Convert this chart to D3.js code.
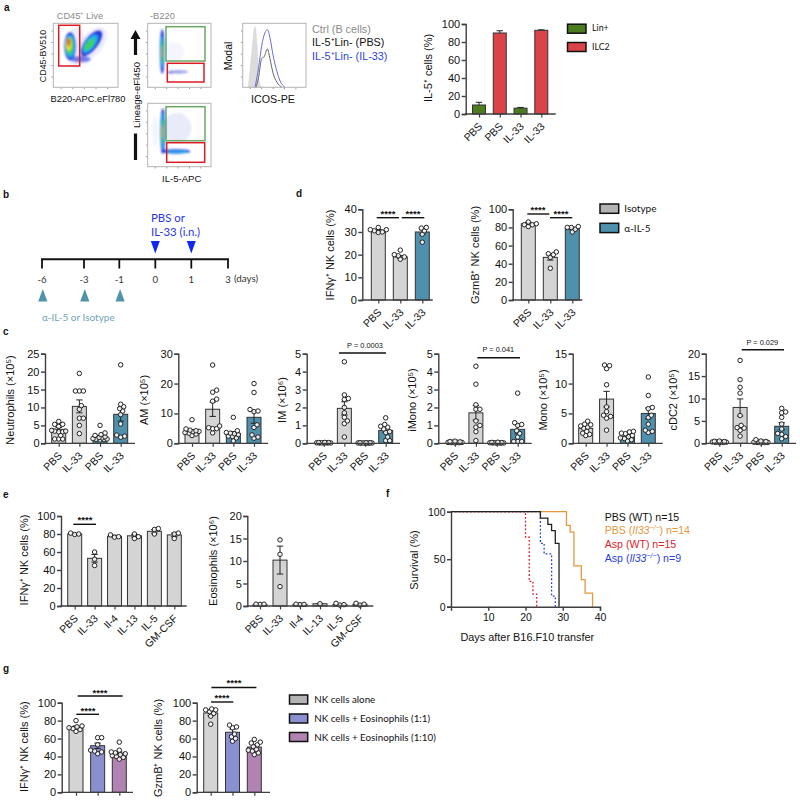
<!DOCTYPE html>
<html><head><meta charset="utf-8">
<style>html,body{margin:0;padding:0;background:#fff}svg{display:block}</style>
<script src="https://cdn.jsdelivr.net/npm/d3@7"></script></head>
<body><svg id="c" width="800" height="800"></svg>
<script>
// ---------- data ----------
const catsPP=['PBS','IL-33','PBS','IL-33'];
const catsD=['PBS','IL-33','IL-33'];
const catsE=['PBS','IL-33','Il-4','IL-13','IL-5','GM-CSF'];
const catsA=['PBS','PBS','IL-33','IL-33'];
const catsG=['','',''];
const aMeans=[10,90,6.5,93], aErrs=[3,2.5,0.8,0.5];
const neutMeans=[3.9,10.3,1.9,8.1], neutErrs=[0.5,1.8,0.3,1.9];
const neutPts=[[6.1,5.3,5.3,4.7,3.6,3.4,3.4,3.2,3.2,2.2,1.2,1.2,1.2],[19.5,14.6,14.6,14.6,10.5,9.5,7,7,5,2.7],[5,2.9,2.4,2.2,1.8,1.6,1.5,1.3,1.2,1.1,1,0.9],[21.9,10.9,10.2,9.7,9,8,5.4,2.3,2,1.7]];
const amMeans=[4.1,11.4,3.3,8.7], amErrs=[0.4,2.4,0.6,2];
const amPts=[[7.9,4.8,4.4,4.2,4,3.9,3.6,3.4,3.1,2.6],[26.2,17.8,17.1,14.8,14.1,5.8,5.2,4.9,4.9,3.5],[8.7,4.2,3.6,3.4,3.2,2.9,2.4,2.3,1.8,0.8],[20,17,11.3,10.8,10.6,6.2,5.3,2.8,2.1,1.7]];
const imMeans=[0.03,1.95,0.02,0.72], imErrs=[0.01,0.37,0.01,0.12];
const imPts=[[.05,.04,.04,.03,.03,.03,.02,.02,.02,.02],[4.55,2.7,2.5,2.45,2,1.7,1.45,1.25,1.1,.35],[.03,.03,.03,.02,.02,.02,.02,.01,.01,.01],[1.42,1.05,.95,.9,.8,.65,.6,.35,.15,.15]];
const imonoMeans=[0.06,1.7,0.03,0.78], imonoErrs=[0.02,0.4,0.01,0.25];
const imonoPts=[[.12,.1,.08,.07,.06,.05,.05,.04,.03,.02],[4.3,3.3,2.15,1.9,1.9,1.25,1,.9,.65,.15],[.06,.05,.04,.03,.03,.03,.02,.02,.01,.01],[2.8,1.15,1.05,1,.7,.55,.35,.1,.1,.1]];
const monoMeans=[2.5,7.4,1.2,5], monoErrs=[0.25,1.3,0.2,0.9];
const monoPts=[[3.7,3.2,3.1,2.9,2.7,2.5,2,1.7,1.5,1.3],[13.1,13,12.5,9.8,6.1,5.3,4.7,4.5,4.2,2.2],[2,1.9,1.7,1.6,1.3,1.1,.9,.8,.6,.4],[11.1,8,6,5.8,4.7,4.3,3.2,2.2,2,1.8]];
const cdcMeans=[0.3,8,0.3,3.8], cdcErrs=[0.05,1.9,0.05,0.8];
const cdcPts=[[.5,.45,.4,.35,.3,.3,.25,.2,.2,.15],[18.5,14.2,12.5,11.2,6.2,4,3.5,3.4,2.9,1.6],[.8,.5,.4,.3,.3,.25,.2,.2,.15,.1],[7.8,7,6.8,5.8,4.3,3.2,2.2,2,1.5,1]];
const dIfnMeans=[30.5,19,30], dIfnErrs=[0.6,0.6,1];
const dIfnPts=[[32,31,31,30.5,30,29.8],[22,20,19.5,19,18],[32,31.7,30.5,29,25.5]];
const dGzmMeans=[84,47,79], dGzmErrs=[1.5,3,1.2];
const dGzmPts=[[86,84,83,83,81],[53,51,50,47,35],[81,80,80,78,75]];
const eIfnMeans=[80,53,77.5,78,83,79], eIfnErrs=[0.5,4.3,1,1.5,2,2];
const eIfnPts=[[81,80,79.5],[60,52,45],[79,77,76.5],[80,77,75],[86,85,80],[81,80,75]];
const eEosMeans=[0.3,10.2,0.35,0.5,0.3,0.4], eEosErrs=[0.05,3.1,0.05,0.02,0.1,0.1];
const eEosPts=[[.4,.4,.35],[14.7,11.5,4.3],[.4,.35,.3],[.5],[.6,.3,.2],[.6,.4,.2]];
const gIfnMeans=[72,52,43.5], gIfnErrs=[2,3,1.5];
const gIfnPts=[[80,74,73,72,71,70,68],[61,61,53,47,46,45,43],[56,47,45,44,43,42,41,40,39,37]];
const gGzmMeans=[88.5,67,50.5], gGzmErrs=[3,3.5,2];
const gGzmPts=[[93,92,92,90,88,85,76],[75,73,72,65,62,60,57],[59,56,55,53,51,48,47,46,44,42]];
const survPbsWt=[[0,100],[24,93.3],[26,86.7],[27,80],[28,66.7],[29,0]];
const survPbsKo=[[0,100],[31,85.7],[32,78.6],[33,42.9],[35,28.6],[36,14.3],[38,0]];
const survAspWt=[[0,100],[20,73.3],[21,26.7],[22,13.3],[23,0]];
const survAspKo=[[0,100],[24,66.7],[25,55.6],[27,11.1],[28,0]];
const histCtrl=[[9,0],[14,50],[19.5,95],[23,60],[26,10],[30,0]];
const histPbs=[[21,0],[25,15],[30,45],[34,48],[39,60],[43,45],[48,22],[54,8],[62,0]];
const histIl33=[[19.5,0],[25,30],[30,65],[35,85],[39,90],[43,78],[48,50],[54,25],[59,10],[67,0]];
const timeDays=['-6','-3','-1','0','1','3'];
const timeDrug=['-6','-3','-1'], timeIn=['0','1'];

// flow plots: density blobs as [cx, cy, rx, ry, angle, colour, opacity] in % of the plot frame
const flowA=[[35,38,16,32,0,'#c9cbf3',.3],[60,32,30,17,-52,'#c9cbf3',.35],
 [26,36,9,22,0,'#2a3be0',1],[59,31,24,10.5,-52,'#2a3be0',1],[42,56,16,5,0,'#3b4be6',.7],
 [26,36,7.5,18,0,'#1fb4e8',1],[57,32,17,7.5,-52,'#1fb4e8',1],
 [25,35,6,14,0,'#3fd25c',1],[56,33,11,5,-52,'#3fd25c',1],
 [24,33,4,10,0,'#e8e22c',1],[24,30,2.5,7,0,'#f08a1c',1],[23.5,29,1.5,4.5,0,'#d8201c',1]];
const flowB=[[42,45,16,16,0,'#dfe0f8',.3],[48,76,16,2.5,0,'#8a90e6',.9],[36,77,5,2,0,'#6a74e6',.7],
 [23,44,3.8,35,0,'#2a3be0',1],[23,45,2.6,25,0,'#1fb4e8',1],[23,45,1.7,18,0,'#3fd25c',1],[22.5,46,.9,10,0,'#d8a81c',1]];
const flowC=[[46,39,23,24,0,'#c3c6f2',.35],[12,45,5,24,0,'#dfe0f8',.35],
 [24,44,4.2,36,0,'#2a3be0',1],[44,76,23,3.6,0,'#2a3be0',1],[24,44,2.8,29,0,'#1fb4e8',1],[44,76.5,17,1.6,0,'#1fb4e8',1],[58,77,5,1.6,0,'#1fb4e8',1],
 [23.5,45,1.9,20,0,'#3fd25c',1],[23.5,45,1,12,0,'#d8a81c',1]];

// ---------- helpers ----------
const svg=d3.select('#c');
const defs=svg.append('defs');
defs.append('filter').attr('id','blur').attr('x','-30%').attr('y','-30%').attr('width','160%').attr('height','160%')
 .append('feGaussianBlur').attr('stdDeviation',0.9);
const SANS='"Liberation Sans",Arial,sans-serif', HUM='Lato,"Open Sans",sans-serif';
const AX='#3f3f3f', GREY='#d4d4d4', TEAL='#4f90ad', PERI='#8a90cf', MAUVE='#b083b2', GREEN='#4b7d1e', RED='#da4449';

function txt(x,y,s,o={}){
 return svg.append('text').attr('x',x).attr('y',y).attr('dominant-baseline','central').text(s)
  .attr('font-family',o.f||SANS).attr('font-size',o.s||10).attr('fill',o.c||'#111')
  .attr('text-anchor',o.a||'start').attr('font-weight',o.w||'normal');
}
function vtxt(x,y,s,o={}){return txt(0,0,s,{...o,a:'middle'}).attr('transform',`translate(${x},${y}) rotate(-90)`);}
function hline(x1,x2,y,w=1.4,c='#111'){svg.append('line').attr('x1',x1).attr('x2',x2).attr('y1',y).attr('y2',y).attr('stroke',c).attr('stroke-width',w);}

function dodge(vals,y,r,cap){
 const placed=[],sorted=[...vals].sort((a,b)=>a-b);
 sorted.forEach(v=>{
  const py=y(v);let best=0,bestD=-1;
  for(let k=0;k<=2*cap;k++){
   const off=(k%2?1:-1)*Math.ceil(k/2)*1;
   let d=Infinity;placed.forEach(p=>{d=Math.min(d,Math.hypot(p.x-off,p.y-py));});
   if(d>=2*r*0.85){best=off;bestD=d;break;}
   if(d>bestD){bestD=d;best=off;}
  }
  placed.push({x:best,y:py});
 });
 return placed;
}

function barPanel(p){
 const y=d3.scaleLinear().domain([0,p.max]).range([p.y0,p.yT]);
 const x=d3.scalePoint().domain(d3.range(p.means.length)).range([p.c0,p.c1]);
 const bw=p.bw||14, g=svg.append('g');
 // bars
 g.selectAll('rect').data(p.means).join('rect')
  .attr('x',(d,i)=>x(i)-bw/2).attr('width',bw).attr('y',d=>y(d)).attr('height',d=>p.y0-y(d))
  .attr('fill',(d,i)=>p.colors[i]).attr('stroke','#333').attr('stroke-width',1);
 // error bars
 p.means.forEach((m,i)=>{
  const e=p.errs[i],cx=x(i),ce=svg.append('g').attr('stroke','#222').attr('stroke-width',1);
  const lo=p.points?m-e:m;
  ce.append('line').attr('x1',cx).attr('x2',cx).attr('y1',y(lo)).attr('y2',y(m+e));
  ce.append('line').attr('x1',cx-3.2).attr('x2',cx+3.2).attr('y1',y(m+e)).attr('y2',y(m+e));
  if(p.points)ce.append('line').attr('x1',cx-3.2).attr('x2',cx+3.2).attr('y1',y(m-e)).attr('y2',y(m-e));
 });
 // points
 if(p.points)p.points.forEach((vals,i)=>{
  const r=2.25;
  svg.append('g').selectAll('circle').data(dodge(vals,y,r,p.cap||8)).join('circle')
   .attr('cx',d=>x(i)+d.x).attr('cy',d=>d.y).attr('r',r)
   .attr('fill','#fff').attr('fill-opacity',.85).attr('stroke','#222').attr('stroke-width',1);
 });
 // y axis
 const ya=svg.append('g').attr('transform',`translate(${p.x0},0)`).call(d3.axisLeft(y).tickValues(p.ticks).tickSize(4).tickFormat(d3.format('d')));
 ya.selectAll('path,line').attr('stroke',AX).attr('stroke-width',1.4);
 ya.selectAll('text').attr('font-family',SANS).attr('font-size',p.tf||11).attr('fill','#111').attr('x',-5.5);
 // x axis
 const xa=svg.append('g').attr('transform',`translate(0,${p.y0})`).call(d3.axisBottom(x).tickSize(3.5).tickFormat(i=>p.cats[i]));
 xa.select('.domain').remove();
 xa.selectAll('line').attr('stroke',AX).attr('stroke-width',1.2);
 xa.selectAll('text').attr('font-family',SANS).attr('font-size',10.5).attr('fill','#111')
  .attr('text-anchor','end').attr('y',0).attr('dy',0).attr('x',0)
  .attr('transform','translate(3.5,13) rotate(-45)');
 hline(p.x0-.7,p.x1,p.y0,1.3,AX);
 vtxt(p.lx,p.ly,p.label,{s:p.ls||11});
}

function frame(x0,x1,yT,yB){
 return {x:d3.scaleLinear().domain([0,100]).range([x0,x1]),y:d3.scaleLinear().domain([0,100]).range([yT,yB]),x0,x1,yT,yB};
}
function frameBox(fr){
 const tick=[12,30,48,66,84];
 const ax=svg.append('g').attr('stroke','#777').attr('stroke-width',.7);
 tick.forEach(t=>{
  ax.append('line').attr('x1',fr.x(t)).attr('x2',fr.x(t)).attr('y1',fr.yB).attr('y2',fr.yB+1.8);
  ax.append('line').attr('y1',fr.y(t)).attr('y2',fr.y(t)).attr('x1',fr.x0-1.8).attr('x2',fr.x0);
 });
 svg.append('rect').attr('x',fr.x0).attr('y',fr.yT).attr('width',fr.x1-fr.x0).attr('height',fr.yB-fr.yT)
  .attr('fill','none').attr('stroke','#b3b3b3').attr('stroke-width',1);
}
function flow(fr,blobs,gates){
 const sx=(fr.x1-fr.x0)/100, sy=(fr.yB-fr.yT)/100;
 const g=svg.append('g').attr('filter','url(#blur)');
 g.selectAll('ellipse').data(blobs).join('ellipse')
  .attr('rx',d=>d[2]*sx).attr('ry',d=>d[3]*sy).attr('fill',d=>d[5]).attr('opacity',d=>d[6])
  .attr('transform',d=>`translate(${fr.x(d[0])},${fr.y(d[1])}) rotate(${d[4]})`);
 frameBox(fr);
 gates.forEach(q=>svg.append('rect').attr('x',q[0]).attr('y',q[2]).attr('width',q[1]-q[0]).attr('height',q[3]-q[2])
  .attr('fill','none').attr('stroke',q[4]).attr('stroke-width',1.5));
}
function star(x,y){txt(x,y+2.5,'****',{s:9.5,w:'bold',a:'middle',c:'#111'});}
function swatch(x,y,w,h,c){svg.append('rect').attr('x',x).attr('y',y).attr('width',w).attr('height',h).attr('fill',c).attr('stroke','#111').attr('stroke-width',1.5);}

// ---------- panel letters ----------
[['a',4,7],['b',3,194],['c',3,331],['d',296,193],['e',3,494],['f',386,493],['g',3,668]].forEach(l=>txt(l[1],l[2],l[0],{s:10,w:'bold'}));

// ---------- panel a: flow ----------
const GRN='#6aa964', RD='#dd1a22';
flow(frame(53.3,118,23.3,87.3),flowA,[[58.7,79.7,25.3,66,RD]]);
flow(frame(147.7,211,23.3,87.3),flowB,[[166,205,26.7,61,GRN],[167.3,204,63.3,82,RD]]);
flow(frame(147.7,211,103.3,166.7),flowC,[[166,205,106.7,140.7,GRN],[166.7,204.7,142.7,162.3,RD]]);
txt(56.7,15.5,'CD45⁺ Live',{s:9.3,c:'#8a8a8a'});
txt(150,15.5,'-B220',{s:9.3,c:'#8a8a8a'});
vtxt(42.7,56,'CD45-BV510',{s:8.9});
txt(88,99,'B220-APC.eFl780',{s:9.3,a:'middle'});
vtxt(136,95,'Lineage-eFl450',{s:9.5});
txt(181.7,178,'IL-5-APC',{s:9.6,a:'middle'});
// arrow and bar beside the lineage plots
svg.append('line').attr('x1',135.5).attr('x2',135.5).attr('y1',38).attr('y2',55).attr('stroke','#111').attr('stroke-width',3.2);
svg.append('path').attr('d','M130.5,39L135.5,30L140.5,39Z').attr('fill','#111');
svg.append('line').attr('x1',135.5).attr('x2',135.5).attr('y1',133.5).attr('y2',160).attr('stroke','#111').attr('stroke-width',3.2);

// histogram
{
 const fr=frame(242.7,306,87.3,23.3); // y: 0 at bottom, 100 at top
 const line=d3.line().x(d=>fr.x(d[0])).y(d=>fr.y(d[1])).curve(d3.curveMonotoneX);
 svg.append('path').attr('d',line(histCtrl)).attr('fill','#dcdcdc').attr('stroke','#cfcfcf').attr('stroke-width',.5);
 svg.append('path').attr('d',line(histPbs)).attr('fill','none').attr('stroke','#666').attr('stroke-width',1);
 svg.append('path').attr('d',line(histIl33)).attr('fill','none').attr('stroke','#6a6fd8').attr('stroke-width',1);
 frameBox(frame(242.7,306,23.3,87.3));
}
vtxt(228,56,'Modal',{s:10.5});
txt(273,99,'ICOS-PE',{s:10.7,a:'middle'});
txt(312,28.5,'Ctrl (B cells)',{s:10.8,c:'#8a8a8a'});
txt(312,41.5,'IL-5⁺Lin- (PBS)',{s:10.8,c:'#111'});
txt(312,55.5,'IL-5⁺Lin- (IL-33)',{s:10.8,c:'#2f3fd8'});

// panel a: bars
barPanel({x0:465.7,x1:555.7,yT:24,y0:114,c0:479,c1:541.3,bw:13,max:100,ticks:[0,20,40,60,80,100],means:aMeans,errs:aErrs,colors:[GREEN,RED,GREEN,RED],cats:catsA,label:'IL-5⁺ cells (%)',lx:428,ly:68});
swatch(567.5,24.2,18.5,9,GREEN); swatch(567.5,42.5,18.5,9,RED);
txt(592,27.3,'Lin+',{f:HUM,s:8.8}); txt(592,46.5,'ILC2',{f:HUM,s:8.8});

// ---------- panel b: timeline ----------
{
 const t=d3.scaleOrdinal().domain(timeDays).range([42,84,119.3,155.3,191.3,228]);
 const ax=svg.append('g').attr('stroke','#111');
 ax.append('line').attr('x1',t('-6')-1).attr('x2',t('3')+1).attr('y1',259.3).attr('y2',259.3).attr('stroke-width',2);
 timeDays.forEach(d=>{
  ax.append('line').attr('x1',t(d)).attr('x2',t(d)).attr('y1',259).attr('y2',268.5).attr('stroke-width',1.8);
  txt(t(d),279,d,{f:HUM,s:9.6,a:'middle',c:'#333'});
 });
 txt(234,278,'(days)',{f:HUM,s:9.8,c:'#333'});
 svg.append('g').selectAll('path').data(timeIn).join('path')
  .attr('d',d=>`M${t(d)-4.5},241L${t(d)+4.5},241L${t(d)},253.4Z`).attr('fill','#1029f0');
 svg.append('g').selectAll('path').data(timeDrug).join('path')
  .attr('d',d=>`M${t(d)-4.6+.8},301.6L${t(d)+4.6+.8},301.6L${t(d)+.8},289Z`).attr('fill','#4f93ab');
 txt(151,217.5,'PBS or',{f:HUM,s:11.4,c:'#2a36e6'});
 txt(151,231,'IL-33 (i.n.)',{f:HUM,s:11.4,c:'#2a36e6'});
 txt(42,316.7,'α-IL-5 or Isotype',{f:HUM,s:10,c:'#6ea3b8'});
}

// ---------- panel d ----------
barPanel({x0:362.3,x1:432.7,yT:209.3,y0:300,c0:378.3,c1:422.3,max:40,ticks:[0,10,20,30,40],means:dIfnMeans,errs:dIfnErrs,points:dIfnPts,colors:[GREY,GREY,TEAL],cats:catsD,label:'IFNγ⁺ NK cells (%)',lx:330,ly:255});
hline(376.7,399,217.7); hline(401.7,424.3,217.7); star(388,210.7); star(413,210.7);
barPanel({x0:512.7,x1:582.3,yT:209.3,y0:300,c0:528.3,c1:572.3,max:100,ticks:[0,20,40,60,80,100],means:dGzmMeans,errs:dGzmErrs,points:dGzmPts,colors:[GREY,GREY,TEAL],cats:catsD,label:'GzmB⁺ NK cells (%)',lx:475,ly:255});
hline(527.3,549.3,214); hline(550,572.3,217.7); star(538,207); star(561,210.7);
swatch(600,204,18.7,9.3,'#b3b3b3'); swatch(600,223.3,18.7,9.3,TEAL);
txt(624.3,208,'Isotype',{f:HUM,s:10}); txt(624.3,227.7,'α-IL-5',{f:HUM,s:10});

// ---------- panel c ----------
const cc=[GREY,GREY,TEAL,TEAL];
const cBase={yT:353.7,y0:443.3,cats:catsPP,colors:cc,bw:14,ly:400,cap:7};
barPanel({...cBase,x0:45,x1:135,c0:58.7,c1:120.7,max:25,ticks:[0,5,10,15,20,25],means:neutMeans,errs:neutErrs,points:neutPts,label:'Neutrophils (×10⁵)',lx:10});
barPanel({...cBase,x0:178.3,x1:268,c0:192,c1:254,max:30,ticks:[0,10,20,30],means:amMeans,errs:amErrs,points:amPts,label:'AM (×10⁵)',lx:144});
barPanel({...cBase,x0:306.7,x1:400,c0:323.7,c1:385.7,max:5,ticks:[0,1,2,3,4,5],means:imMeans,errs:imErrs,points:imPts,label:'IM (×10⁶)',lx:282.3});
barPanel({...cBase,x0:438.3,x1:531.7,c0:455,c1:517.7,max:5,ticks:[0,1,2,3,4,5],means:imonoMeans,errs:imonoErrs,points:imonoPts,label:'iMono (×10⁵)',lx:411.7});
barPanel({...cBase,x0:572.7,x1:662.7,c0:585.7,c1:648.3,max:15,ticks:[0,5,10,15],means:monoMeans,errs:monoErrs,points:monoPts,label:'Mono (×10⁵)',lx:542.7});
barPanel({...cBase,x0:705.7,x1:796,c0:719.3,c1:781.7,max:20,ticks:[0,5,10,15,20],means:cdcMeans,errs:cdcErrs,points:cdcPts,label:'cDC2 (×10⁵)',lx:672.7});
hline(339,386,353); txt(365,345,'P = 0.0003',{s:7.4,a:'middle'});
hline(477.3,520,357.7); txt(498.3,349.7,'P = 0.041',{s:7.4,a:'middle'});
hline(741.7,784,349.7); txt(762.3,342,'P = 0.029',{s:7.4,a:'middle'});

// ---------- panel e ----------
const ce=catsE.map(()=>GREY);
barPanel({x0:61,x1:186.7,yT:516,y0:606,c0:74.7,c1:174.3,max:100,ticks:[0,20,40,60,80,100],means:eIfnMeans,errs:eIfnErrs,points:eIfnPts,colors:ce,cats:catsE,label:'IFNγ⁺ NK cells (%)',lx:24,ly:560});
hline(73.3,96,524.3); star(85,516.7);
barPanel({x0:247.3,x1:373.3,yT:516,y0:606,c0:260,c1:360,max:20,ticks:[0,5,10,15,20],means:eEosMeans,errs:eEosErrs,points:eEosPts,colors:ce,cats:catsE,label:'Eosinophils (×10⁶)',lx:213.3,ly:561});

// ---------- panel f ----------
{
 const x=d3.scaleLinear().domain([0,40]).range([451,600]);
 const y=d3.scaleLinear().domain([0,100]).range([606.7,511.7]);
 const l=d3.line().x(d=>x(d[0])).y(d=>y(d[1])).curve(d3.curveStepAfter);
 const curves=[[survPbsKo,'#e6973d',null],[survAspWt,'#d81e2a','1.8,2'],[survAspKo,'#2a3fd8','1.8,2'],[survPbsWt,'#222',null]];
 curves.forEach(c=>svg.append('path').attr('d',l(c[0])).attr('fill','none').attr('stroke',c[1]).attr('stroke-width',1.3).attr('stroke-dasharray',c[2]));
 const ya=svg.append('g').attr('transform','translate(451,0)').call(d3.axisLeft(y).tickValues([0,50,100]).tickSize(4));
 const xa=svg.append('g').attr('transform','translate(0,606.7)').call(d3.axisBottom(x).tickValues([10,20,30,40]).tickSize(4));
 [ya,xa].forEach(a=>{a.selectAll('path,line').attr('stroke',AX).attr('stroke-width',1.4);a.selectAll('text').attr('font-family',SANS).attr('font-size',10.5).attr('fill','#111');});
 ya.selectAll('text').attr('x',-5.5);
 vtxt(414,560,'Survival (%)',{s:11});
 txt(527.3,636.7,'Days after B16.F10 transfer',{s:10.9,a:'middle'});
 const fl=(yy,pre,mid,post,c)=>{const t=txt(604.7,yy,pre,{s:10.6,c});
  if(mid){t.append('tspan').attr('font-style','italic').text(mid);
   t.append('tspan').attr('font-style','italic').attr('font-size',7).attr('dy',-3).text('−/−');
   t.append('tspan').attr('dy',3).text(post);}};
 fl(516.7,'PBS (WT) n=15',null,null,'#111');
 fl(530.3,'PBS (','Il33',') n=14','#e6973d');
 fl(544,'Asp (WT) n=15',null,null,'#d81e2a');
 fl(557.7,'Asp (','Il33',') n=9','#2a3fd8');
}

// ---------- panel g ----------
const cg=[GREY,PERI,MAUVE];
barPanel({x0:61.7,x1:133,yT:702.7,y0:792.3,c0:76,c1:119.3,max:100,ticks:[0,20,40,60,80,100],means:gIfnMeans,errs:gIfnErrs,points:gIfnPts,colors:cg,cats:catsG,label:'IFNγ⁺ NK cells (%)',lx:24,ly:746.7});
hline(76.3,99,714.3); star(88,707.5); hline(77.7,122.7,696); star(100,689.5);
barPanel({x0:196.7,x1:270,yT:702.7,y0:792.3,c0:210.7,c1:254.3,max:100,ticks:[0,20,40,60,80,100],means:gGzmMeans,errs:gGzmErrs,points:gGzmPts,colors:cg,cats:catsG,label:'GzmB⁺ NK cells (%)',lx:158,ly:748});
hline(211,233.3,702); star(222,695); hline(211.4,256.4,687.5); star(234,680);
swatch(289.5,695,18.2,9,'#b3b3b3'); swatch(289.5,714,18.2,9,PERI); swatch(289.5,732.5,18.2,9,MAUVE);
txt(314.3,699,'NK cells alone',{f:HUM,s:9.8});
txt(314.3,718,'NK cells + Eosinophils (1:1)',{f:HUM,s:9.8});
txt(314.3,736.5,'NK cells + Eosinophils (1:10)',{f:HUM,s:9.8});
</script></body></html>
